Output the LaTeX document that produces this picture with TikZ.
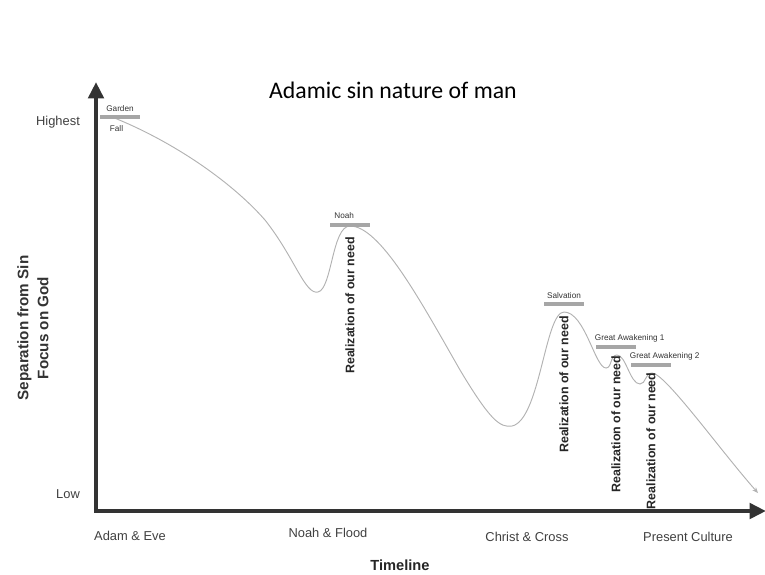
\documentclass[tikz,border=0pt]{standalone}
\usepackage{fontspec}
\setmainfont{Liberation Sans}
\newfontfamily\titlefont{Carlito}
\usetikzlibrary{arrows.meta,positioning}
\tikzset{
	axis/.style={line width=3.5pt,draw=black!80,-{Triangle[length=14pt,width=13pt]}},
	curve/.style={draw=black!30,line width=0.8pt,-{Stealth[length=5pt,width=4pt]}},
	bar/.style={fill=black!35,minimum width=34,minimum height=4,inner sep=0pt},
	tick/.style={font=\fontsize{11}{13}\selectfont,text=black!75},
	event/.style={font=\fontsize{7}{8}\selectfont,text=black!80,inner sep=1pt},
	need/.style={rotate=90,font=\bfseries\fontsize{10.6}{12}\selectfont,text=black!85,inner sep=0pt}
}
\begin{document}
\begin{tikzpicture}[x=0.03cm,y=-0.03cm]
			\useasboundingbox (0,0) rectangle (765,574);
			\node[coordinate] (origin) at (96,511) {};
			\node[coordinate] (ytop) at (96,82) {};
			\node[coordinate] (xend) at (766,511) {};
			\draw[axis] (origin) -- (ytop);
			\draw[axis] ([xshift=-1.7pt]origin) -- (xend);
			
			\node[font=\titlefont\fontsize{20.3}{24}\selectfont] (title) at (393,90) {Adamic sin nature of man};
			
			\node[tick] (high) at (58,122) {Highest};
			\node[tick] (low) at (68,494) {Low};
			\node[rotate=90,align=center,font=\bfseries\fontsize{13}{17}\selectfont,text=black!80] (ylab) at (33,328) {Separation from Sin\\Focus on God};
			
			\node[tick] (adam) at (130,536) {Adam \& Eve};
			\node[tick] (noahflood) at (328,533) {Noah \& Flood};
			\node[tick] (christ) at (527,537) {Christ \& Cross};
			\node[tick] (present) at (688,537) {Present Culture};
			\node[font=\bfseries\fontsize{12.5}{15}\selectfont,text=black!85] (timeline) at (400,565) {Timeline};
			
			\draw[curve] (112,117) .. controls (170,140) and (230,180) .. (265,220)
				.. controls (295,258) and (305,295) .. (318,292)
				.. controls (332,289) and (332,226) .. (350,226)
				.. controls (380,226) and (420,300) .. (460,370)
				.. controls (490,420) and (500,428) .. (512,426)
				.. controls (540,420) and (545,312) .. (564,312)
				.. controls (585,312) and (595,368) .. (606,368)
				.. controls (612,368) and (610,355) .. (617,355)
				.. controls (626,355) and (630,384) .. (640,384)
				.. controls (646,384) and (645,373) .. (652,373)
				.. controls (665,373) and (720,450) .. (758,493);
			
			\node[bar] (garden) at (120,117) {};
			\node[event,above=1pt of garden] (gardentxt) {Garden};
			\node[event,below=4pt of garden,xshift=-3] (fall) {Fall};
			\node[bar] (noah) at (350,225) {};
			\node[event,above=2pt of noah,xshift=-5] (noahtxt) {Noah};
			\node[bar] (salvation) at (564,304) {};
			\node[event,above=1pt of salvation] (salvtxt) {Salvation};
			\node[bar] (awake1) at (616,347) {};
			\node[event,above=1pt of awake1.north west,anchor=south west,xshift=-2] (awake1txt) {Great Awakening 1};
			\node[bar] (awake2) at (651,365) {};
			\node[event,above=1pt of awake2.north west,anchor=south west,xshift=-2] (awake2txt) {Great Awakening 2};
			
			\node[need,below=8pt of noah,anchor=east] (need1) {Realization of our need};
			\node[need,below=8pt of salvation,anchor=east] (need2) {Realization of our need};
			\node[need,below=5pt of awake1,anchor=east] (need3) {Realization of our need};
			\node[need,below=4pt of awake2,anchor=east] (need4) {Realization of our need};
		\end{tikzpicture}
\end{document}
